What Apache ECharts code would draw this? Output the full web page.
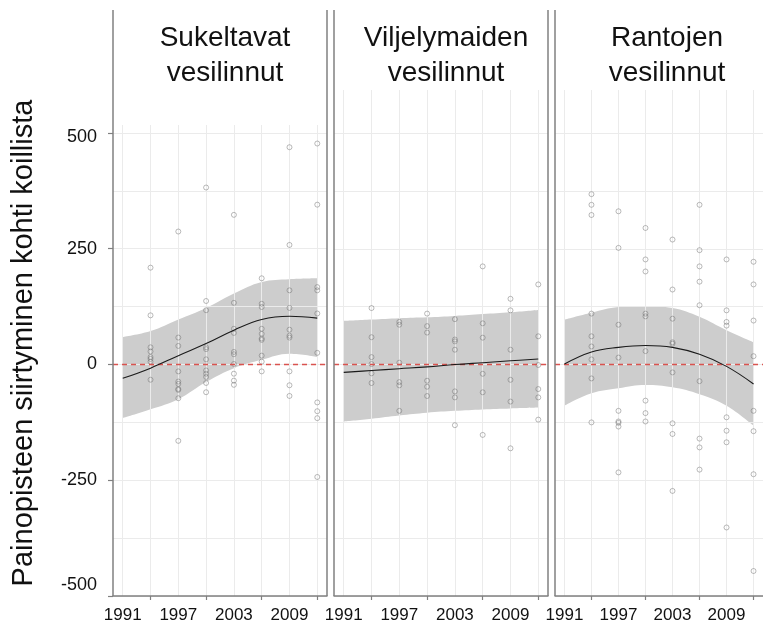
<!DOCTYPE html>
<html>
<head>
<meta charset="utf-8">
<script src="https://cdn.jsdelivr.net/npm/echarts@6/dist/echarts.min.js"></script>
<style>
html,body{margin:0;padding:0;background:#fff;}
#chart{width:763px;height:628px;}
</style>
</head>
<body>
<div id="chart"></div>
<script>
// ---------- data ----------
const years = [1991, 1994, 1997, 2000, 2003, 2006, 2009, 2012];
const panelTitles = ['Sukeltavat\nvesilinnut', 'Viljelymaiden\nvesilinnut', 'Rantojen\nvesilinnut'];
const yTitle = 'Painopisteen siirtyminen kohti koillista';
const xTickLabels = [1991, 1997, 2003, 2009];
const xTickMarks = [1994, 2000, 2006, 2012];
const xGridYears = [1991, 1994, 1997, 2000, 2003, 2006, 2009, 2012];
const yTickLabels = [-500, -250, 0, 250, 500];

// Sukeltavat vesilinnut
const fitSukeltavat   = [-30, -8, 19, 45, 74, 97, 104, 100];
const upperSukeltavat = [59, 72, 97, 122, 153, 178, 184, 186];
const lowerSukeltavat = [-116, -97, -75, -38, -8, 10, 23, 16];
const pointsSukeltavat = [
  [1994,209],[1994,106],[1994,37],[1994,28],[1994,16],[1994,12],[1994,6],[1994,-33],
  [1997,287],[1997,58],[1997,40],[1997,-15],[1997,-37],[1997,-42],[1997,-53],[1997,-55],[1997,-73],[1997,-165],
  [2000,382],[2000,137],[2000,117],[2000,37],[2000,33],[2000,11],[2000,-13],[2000,-20],[2000,-27],[2000,-40],[2000,-60],
  [2003,323],[2003,133],[2003,77],[2003,68],[2003,27],[2003,22],[2003,1],[2003,-20],[2003,-35],[2003,-44],
  [2006,186],[2006,131],[2006,124],[2006,77],[2006,66],[2006,56],[2006,53],[2006,19],[2006,6],[2006,-15],
  [2009,469],[2009,258],[2009,160],[2009,122],[2009,75],[2009,62],[2009,58],[2009,-15],[2009,-45],[2009,-68],
  [2012,477],[2012,345],[2012,167],[2012,160],[2012,110],[2012,25],[2012,-82],[2012,-101],[2012,-116],[2012,-243]
];

// Viljelymaiden vesilinnut
const fitViljely   = [-17, -13, -9, -5, 0, 4, 8, 12];
const upperViljely = [94, 97, 100, 102, 105, 109, 113, 118];
const lowerViljely = [-123, -117, -110, -104, -100, -97, -95, -93];
const pointsViljely = [
  [1994,122],[1994,59],[1994,16],[1994,1],[1994,-19],[1994,-40],
  [1997,92],[1997,86],[1997,4],[1997,-38],[1997,-45],[1997,-100],
  [2000,110],[2000,83],[2000,69],[2000,-35],[2000,-48],[2000,-68],
  [2003,98],[2003,54],[2003,50],[2003,32],[2003,-58],[2003,-71],[2003,-131],
  [2006,212],[2006,89],[2006,58],[2006,-20],[2006,-60],[2006,-152],
  [2009,142],[2009,117],[2009,32],[2009,-33],[2009,-80],[2009,-181],
  [2012,173],[2012,61],[2012,-1],[2012,-53],[2012,-71],[2012,-119]
];

// Rantojen vesilinnut
const fitRanta   = [1, 27, 37, 41, 37, 22, -4, -42];
const upperRanta = [97, 112, 124, 126, 122, 103, 74, 48];
const lowerRanta = [-89, -62, -51, -44, -49, -64, -89, -132];
const pointsRanta = [
  [1994,368],[1994,345],[1994,323],[1994,110],[1994,61],[1994,39],[1994,11],[1994,-30],[1994,-125],
  [1997,331],[1997,252],[1997,86],[1997,15],[1997,-100],[1997,-123],[1997,-126],[1997,-134],[1997,-233],
  [2000,295],[2000,227],[2000,201],[2000,110],[2000,104],[2000,29],[2000,-78],[2000,-105],[2000,-123],
  [2003,270],[2003,162],[2003,99],[2003,48],[2003,45],[2003,-17],[2003,-127],[2003,-150],[2003,-273],
  [2006,345],[2006,247],[2006,212],[2006,179],[2006,128],[2006,-36],[2006,-160],[2006,-179],[2006,-227],
  [2009,227],[2009,117],[2009,92],[2009,84],[2009,-114],[2009,-143],[2009,-168],[2009,-352],
  [2012,222],[2012,173],[2012,95],[2012,18],[2012,-100],[2012,-144],[2012,-237],[2012,-446]
];

// ---------- layout / style ----------
const FONT = '"Liberation Sans", Arial, sans-serif';
const X_MIN = 1989.95, X_MAX = 2013.05;
const Y_MIN = -500;
const panels = [
  {fit: fitSukeltavat, upper: upperSukeltavat, lower: lowerSukeltavat, pts: pointsSukeltavat,
   grid: {left: 113, width: 214, top: 125, bottom: 32}, yMax: 517, cx: 220},
  {fit: fitViljely, upper: upperViljely, lower: lowerViljely, pts: pointsViljely,
   grid: {left: 334, width: 214, top: 90, bottom: 32}, yMax: 593, cx: 441},
  {fit: fitRanta, upper: upperRanta, lower: lowerRanta, pts: pointsRanta,
   grid: {left: 555, width: 215, top: 90, bottom: 32}, yMax: 593, cx: 662}
];
const borderXs = [113, 327, 334, 548, 555];
const GRID_COLOR = '#ebebeb';

const grid = [], xAxis = [], yAxis = [], series = [], title = [];
panels.forEach((p, i) => {
  grid.push(Object.assign({containLabel: false}, p.grid));
  // x axis A: data + vertical grid lines (drawn above the ribbon)
  xAxis.push({
    type: 'value', gridIndex: i, min: X_MIN, max: X_MAX, z: 3,
    axisLine: {show: false, onZero: false}, axisLabel: {show: false},
    axisTick: {show: false, customValues: xGridYears},
    splitLine: {show: true, lineStyle: {color: GRID_COLOR, width: 1}}
  });
  // x axis B: axis line, ticks and labels
  xAxis.push({
    type: 'value', gridIndex: i, min: X_MIN, max: X_MAX, position: 'bottom', z: 6,
    axisLine: {show: true, onZero: false, lineStyle: {color: '#808080', width: 1.5}},
    axisTick: {show: true, length: 4, customValues: xTickMarks, lineStyle: {color: '#808080', width: 1.2}},
    axisLabel: {show: true, customValues: xTickLabels, margin: 11, fontSize: 17, color: '#111', fontFamily: FONT,
                formatter: v => String(v)},
    splitLine: {show: false}
  });
  // y axis A: horizontal grid lines
  yAxis.push({
    type: 'value', gridIndex: i, min: Y_MIN, max: p.yMax, interval: 125, z: 3,
    axisLine: {show: false, onZero: false}, axisTick: {show: false}, axisLabel: {show: false},
    splitLine: {show: true, showMaxLine: false, lineStyle: {color: GRID_COLOR, width: 1}}
  });
  if (i === 0) {
    yAxis.push({
      type: 'value', gridIndex: i, min: Y_MIN, max: p.yMax, position: 'left', z: 6,
      axisLine: {show: false, onZero: false},
      axisTick: {show: true, length: 5, customValues: yTickLabels, lineStyle: {color: '#808080', width: 1.2}},
      axisLabel: {
        show: true, customValues: yTickLabels, margin: 16, fontSize: 18, color: '#111', fontFamily: FONT,
        formatter: v => (v === -500 ? '{up|' + v + '}' : v === 500 ? '{dn|' + v + '}' : String(v)),
        rich: {
          up: {fontSize: 18, fontFamily: FONT, color: '#111', padding: [0, 0, 22, 0]},
          dn: {fontSize: 18, fontFamily: FONT, color: '#111', padding: [8, 0, 0, 0]}
        }
      },
      splitLine: {show: false}
    });
  }
  const xi = i * 2;
  const yi = i === 0 ? 0 : i + 1;
  // ribbon: upper bound filled grey down to the bottom, lower bound filled white down to the bottom
  series.push({
    type: 'line', xAxisIndex: xi, yAxisIndex: yi, smooth: 0.4,
    symbol: 'none', silent: true, lineStyle: {width: 0, opacity: 0}, z: 1,
    areaStyle: {color: '#cdcdcd', opacity: 1, origin: 'start'},
    data: years.map((y, k) => [y, p.upper[k]])
  });
  series.push({
    type: 'line', xAxisIndex: xi, yAxisIndex: yi, smooth: 0.4,
    symbol: 'none', silent: true, lineStyle: {width: 0, opacity: 0}, z: 2,
    areaStyle: {color: '#ffffff', opacity: 1, origin: 'start'},
    data: years.map((y, k) => [y, p.lower[k]])
  });
  series.push({
    type: 'scatter', xAxisIndex: xi, yAxisIndex: yi, symbol: 'circle', symbolSize: 5, z: 4,
    itemStyle: {color: 'rgba(0,0,0,0)', borderColor: 'rgba(110,110,110,0.6)', borderWidth: 1},
    data: p.pts
  });
  series.push({
    type: 'line', xAxisIndex: xi, yAxisIndex: yi, smooth: 0.4, symbol: 'none', z: 5,
    lineStyle: {color: '#1a1a1a', width: 1.1},
    data: years.map((y, k) => [y, p.fit[k]]),
    markLine: {
      silent: true, symbol: 'none', label: {show: false},
      lineStyle: {color: '#d9534f', type: [5, 4], width: 1.4},
      data: [{yAxis: 0}]
    }
  });
  title.push({
    text: panelTitles[i], left: p.cx, top: 16, textAlign: 'center',
    textStyle: {fontSize: 28, lineHeight: 35, fontWeight: 'normal', color: '#111', fontFamily: FONT}
  });
});

const graphic = borderXs.map(x => ({
  type: 'line', silent: true, z: 10,
  shape: {x1: x, y1: 10, x2: x, y2: 596},
  style: {stroke: '#808080', lineWidth: 1.5}
}));
graphic.push({
  type: 'text', silent: true, x: 24, y: 343, rotation: Math.PI / 2,
  style: {text: yTitle, font: '29px ' + FONT, fill: '#111', align: 'center', verticalAlign: 'middle',
          textAlign: 'center', textVerticalAlign: 'middle'}
});

const chart = echarts.init(document.getElementById('chart'), null, {renderer: 'canvas'});
chart.setOption({
  animation: false, backgroundColor: '#fff',
  title, grid, xAxis, yAxis, series, graphic
});
</script>
</body>
</html>
